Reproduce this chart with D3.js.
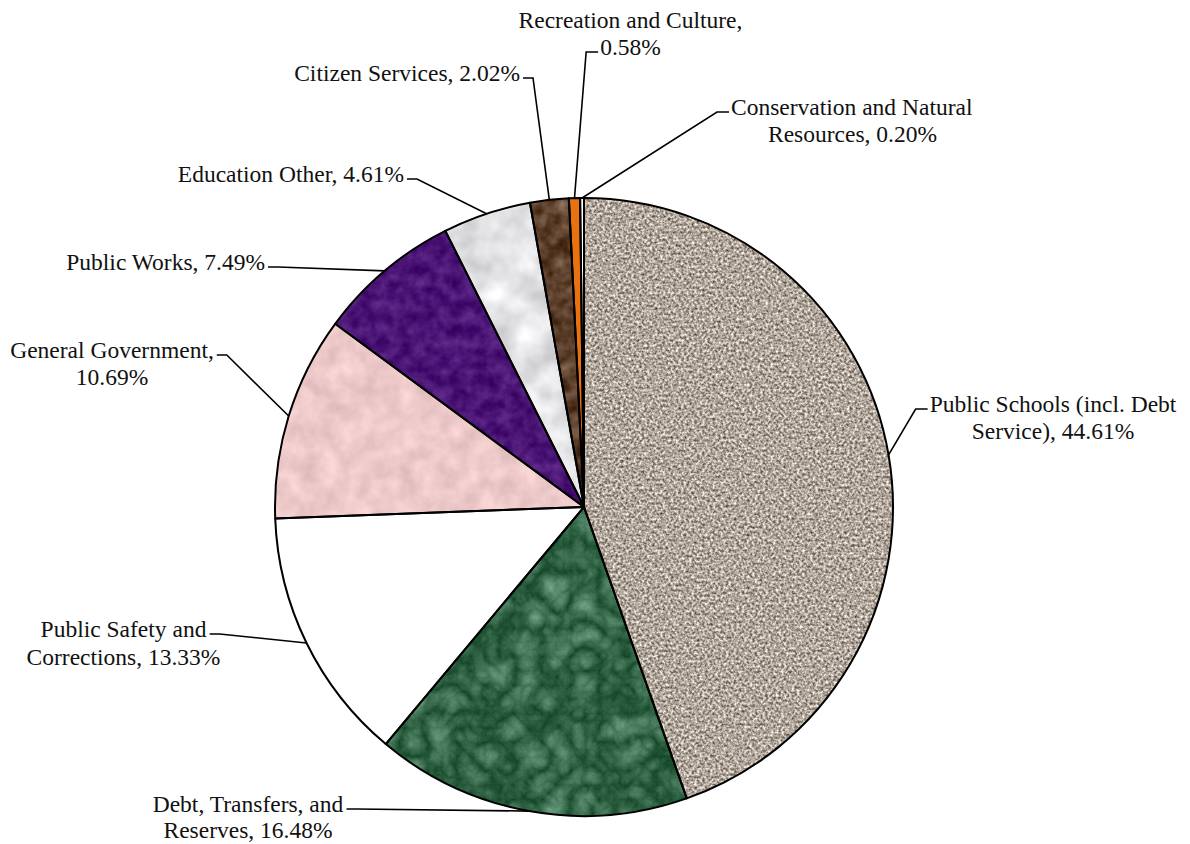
<!DOCTYPE html>
<html>
<head>
<meta charset="utf-8">
<script src="https://cdn.jsdelivr.net/npm/d3@7"></script>
<style>
  html, body { margin: 0; padding: 0; background: #ffffff; }
  svg { display: block; }
</style>
</head>
<body>
<svg id="chart" width="1190" height="844"></svg>
<script>
// ---- data ----
const categories = [
  "Public Schools (incl. Debt Service)",
  "Debt, Transfers, and Reserves",
  "Public Safety and Corrections",
  "General Government",
  "Public Works",
  "Education Other",
  "Citizen Services",
  "Recreation and Culture",
  "Conservation and Natural Resources"
];
const values = [44.61, 16.48, 13.33, 10.69, 7.49, 4.61, 2.02, 0.58, 0.20];
const labelLines = [
  ["Public Schools (incl. Debt", "Service), 44.61%"],
  ["Debt, Transfers, and", "Reserves, 16.48%"],
  ["Public Safety and", "Corrections, 13.33%"],
  ["General Government,", "10.69%"],
  ["Public Works, 7.49%"],
  ["Education Other, 4.61%"],
  ["Citizen Services, 2.02%"],
  ["Recreation and Culture,", "0.58%"],
  ["Conservation and Natural", "Resources, 0.20%"]
];

// ---- layout (positions / styles kept separate from data) ----
const cx = 584, cy = 507, R = 309;
const FONT = "'Liberation Serif', 'Times New Roman', Times, serif";
const labelLayout = [
  { xs: [1053, 1053], anchor: "middle", ys: [412, 439], attach: 0, side: "right" },
  { xs: [248, 248],   anchor: "middle", ys: [812, 838], attach: 0, side: "left" },
  { xs: [123.5, 123.5], anchor: "middle", ys: [637, 665], attach: 0, side: "left" },
  { xs: [112, 112],   anchor: "middle", ys: [358, 385], attach: 0, side: "left" },
  { xs: [265],        anchor: "end",    ys: [270],      attach: 0, side: "left" },
  { xs: [404],        anchor: "end",    ys: [182],      attach: 0, side: "left" },
  { xs: [520],        anchor: "end",    ys: [81],       attach: 0, side: "left" },
  { xs: [630.5, 630.5], anchor: "middle", ys: [28, 55], attach: 1, side: "right" },
  { xs: [731, 768],   anchor: "start",  ys: [115, 142], attach: 0, side: "right" }
];
const textures = [
  { base: [0.69, 0.65, 0.61], k: 1.1, f: 0.38, o: 2, type: "fractalNoise" },
  { base: [0.11, 0.31, 0.19], k: 0.45, f: 0.035, o: 5, type: "turbulence" },
  null,
  { base: [0.93, 0.79, 0.79], k: 0.18, f: 0.05, o: 3, type: "fractalNoise" },
  { base: [0.29, 0.08, 0.46], k: 0.25, f: 0.08, o: 3, type: "fractalNoise" },
  { base: [0.89, 0.89, 0.90], k: 0.3,  f: 0.035, o: 3, type: "fractalNoise" },
  { base: [0.36, 0.25, 0.17], k: 0.45, f: 0.07, o: 3, type: "fractalNoise" },
  null,
  null
];
const solidFill = ["#b0a69c", "#225737", "#ffffff", "#eec8c8", "#4a1478", "#e2e2e4", "#5c402c", "#e8720f", "#ffffff"];

const svg = d3.select("#chart");
const defs = svg.append("defs");

textures.forEach((t, i) => {
  if (!t) return;
  const flt = defs.append("filter")
    .attr("id", "tex" + i)
    .attr("filterUnits", "userSpaceOnUse")
    .attr("x", cx - R - 5).attr("y", cy - R - 5)
    .attr("width", 2 * R + 10).attr("height", 2 * R + 10)
    .attr("color-interpolation-filters", "sRGB");
  flt.append("feTurbulence")
    .attr("type", t.type).attr("baseFrequency", t.f)
    .attr("numOctaves", t.o).attr("seed", 7 + i).attr("result", "n");
  const k = t.k;
  const off = t.type === "turbulence" ? 0.12 * k : 0.5 * k;
  const m = [
    k, 0, 0, 0, t.base[0] - off,
    k, 0, 0, 0, t.base[1] - off,
    k, 0, 0, 0, t.base[2] - off,
    0, 0, 0, 0, 1
  ].join(" ");
  flt.append("feColorMatrix").attr("in", "n").attr("type", "matrix").attr("values", m).attr("result", "c");
  flt.append("feComposite").attr("in", "c").attr("in2", "SourceGraphic").attr("operator", "in");
});

const pie = d3.pie().sort(null).value(d => d).startAngle(0).endAngle(2 * Math.PI);
const arcs = pie(values);
const arc = d3.arc().innerRadius(0).outerRadius(R);

// base fills
svg.append("g").attr("transform", `translate(${cx},${cy})`)
  .selectAll("path").data(arcs).join("path")
  .attr("d", arc)
  .attr("fill", (d, i) => solidFill[i]);

// textured overlays (filter in absolute svg coordinates)
const texG = svg.append("g");
arcs.forEach((d, i) => {
  if (!textures[i]) return;
  texG.append("g").attr("filter", `url(#tex${i})`)
    .append("path")
    .attr("d", arc(d))
    .attr("transform", `translate(${cx},${cy})`)
    .attr("fill", "#000");
});

// outlines
svg.append("g").attr("transform", `translate(${cx},${cy})`)
  .selectAll("path").data(arcs).join("path")
  .attr("d", arc)
  .attr("fill", "none")
  .attr("stroke", "#000")
  .attr("stroke-width", 2)
  .attr("stroke-linejoin", "round");

// labels
const labG = svg.append("g")
  .attr("font-family", FONT)
  .attr("font-size", 23.5)
  .attr("fill", "#111");
const leadG = svg.append("g");
arcs.forEach((d, i) => {
  const L = labelLayout[i];
  const lines = labelLines[i];
  const textEls = lines.map((ln, j) =>
    labG.append("text")
      .attr("x", L.xs[j])
      .attr("y", L.ys[j])
      .attr("text-anchor", L.anchor)
      .style("font-family", FONT)
      .text(ln)
  );
  const bb = textEls[L.attach].node().getBBox();
  const ly = L.ys[L.attach] - 3;
  const mid = (d.startAngle + d.endAngle) / 2;
  const ex = cx + R * Math.sin(mid);
  const ey = cy - R * Math.cos(mid);
  let pts;
  if (L.side === "left") {
    const x0 = bb.x + bb.width + 3;
    pts = [[x0, ly], [x0 + 10, ly], [ex, ey]];
  } else {
    const x0 = bb.x - 2;
    pts = [[x0, ly], [x0 - 12, ly], [ex, ey]];
  }
  leadG.append("path")
    .attr("d", d3.line()(pts))
    .attr("fill", "none")
    .attr("stroke", "#000")
    .attr("stroke-width", 1.6);
});
</script>
</body>
</html>
